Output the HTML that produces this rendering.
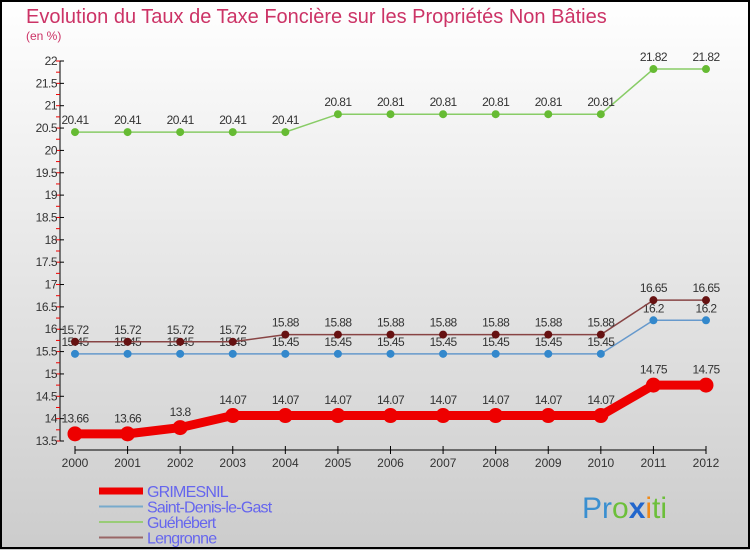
<!DOCTYPE html>
<html><head><meta charset="utf-8"><style>
body{margin:0}
svg{display:block;font-family:"Liberation Sans",sans-serif}
</style></head><body>
<svg id="c" width="750" height="550" viewBox="0 0 750 550">
<defs><linearGradient id="bg" x1="0" y1="0" x2="0" y2="1"><stop offset="0" stop-color="#ffffff"/><stop offset="1" stop-color="#cccccc"/></linearGradient></defs>
<rect x="0" y="0" width="750" height="550" fill="url(#bg)"/>
<rect x="1" y="1" width="748" height="547" fill="none" stroke="#000" stroke-width="2"/>
<text x="26" y="23" font-size="20" fill="#cc3366">Evolution du Taux de Taxe Foncière sur les Propriétés Non Bâties</text>
<text x="26" y="40" font-size="12" fill="#cc3366">(en %)</text>
<g id="axes"></g><g id="series"></g><g id="legend"></g>
<text x="582" y="518" font-size="30"><tspan fill="#3a8fd0">Pr</tspan><tspan fill="#6cbf3a">o</tspan><tspan fill="#2266cc" font-weight="bold">x</tspan><tspan fill="#f08a1a">i</tspan><tspan fill="#6cbf3a">ti</tspan></text>
</svg>
<script>
const years=["2000","2001","2002","2003","2004","2005","2006","2007","2008","2009","2010","2011","2012"];
const grimesnil=[13.66,13.66,13.8,14.07,14.07,14.07,14.07,14.07,14.07,14.07,14.07,14.75,14.75];
const saintDenis=[15.45,15.45,15.45,15.45,15.45,15.45,15.45,15.45,15.45,15.45,15.45,16.2,16.2];
const guehebert=[20.41,20.41,20.41,20.41,20.41,20.81,20.81,20.81,20.81,20.81,20.81,21.82,21.82];
const lengronne=[15.72,15.72,15.72,15.72,15.88,15.88,15.88,15.88,15.88,15.88,15.88,16.65,16.65];
const yTicks=["13.5","14","14.5","15","15.5","16","16.5","17","17.5","18","18.5","19","19.5","20","20.5","21","21.5","22"];
const NS="http://www.w3.org/2000/svg";
function xs(i){return 75+i*(706-75)/12;}
function ys(v){return 441-(v-13.5)*(380/8.5);}
function mk(t,a,p){const e=document.createElementNS(NS,t);for(const k in a)e.setAttribute(k,a[k]);p.appendChild(e);return e;}
const ax=document.getElementById('axes');
let e=mk('line',{x1:60,y1:ys(22),x2:60,y2:ys(13.5),stroke:'#000'},ax);


for(let v=13.5;v<=22.001;v+=0.25){mk('line',{x1:56,y1:ys(v),x2:60,y2:ys(v),stroke:'#e00'},ax);}
yTicks.forEach(t=>{const v=parseFloat(t);mk('line',{x1:60,y1:ys(v),x2:64,y2:ys(v),stroke:'#000'},ax);
 const tx=mk('text',{x:57,y:ys(v)+4,'font-size':12,'text-anchor':'end',fill:'#333','letter-spacing':'-0.5'},ax);tx.textContent=t;
 
 });
e=mk('line',{x1:75,y1:450,x2:706,y2:450,stroke:'#000'},ax);


years.forEach((y,i)=>{mk('line',{x1:xs(i),y1:446,x2:xs(i),y2:454,stroke:'#000'},ax);
 const tx=mk('text',{x:xs(i),y:467,'font-size':12,'text-anchor':'middle',fill:'#333'},ax);tx.textContent=y;
 
 });
const sg=document.getElementById('series');
const series=[
 {n:'guehebert',d:guehebert,c:'#88cc66',p:'#66bb33',w:1.5,r:4},
 {n:'saint-denis-le-gast',d:saintDenis,c:'#6699cc',p:'#3388cc',w:1.5,r:4},
 {n:'lengronne',d:lengronne,c:'#884444',p:'#661111',w:1.5,r:4},
 {n:'grimesnil',d:grimesnil,c:'#ee0000',p:'#ee0000',w:9,r:7.5}];
series.forEach(s=>{const g=mk('g',{},sg);
 
 
 mk('polyline',{points:s.d.map((v,i)=>xs(i)+','+ys(v)).join(' '),fill:'none',stroke:s.c,'stroke-width':s.w},g);
 s.d.forEach((v,i)=>{const c=mk('circle',{cx:xs(i),cy:ys(v),r:s.r,fill:s.p},g);
  
  
  const t=mk('text',{x:xs(i),y:ys(v)-(s.r+4),'font-size':12,'text-anchor':'middle',fill:'#333','letter-spacing':'-0.6'},g);t.textContent=String(v);
  
  });});
const lg=document.getElementById('legend');
const items=[['GRIMESNIL','#ee0000',7],['Saint-Denis-le-Gast','#77aacc',2],['Guéhébert','#99cc77',2],['Lengronne','#996666',2]];
items.forEach((it,k)=>{const y=491+k*15.5;const g=mk('g',{},lg);
 
 
 mk('line',{x1:99,y1:y,x2:143,y2:y,stroke:it[1],'stroke-width':it[2]},g);
 const t=mk('text',{x:147,y:y+6,'font-size':16,fill:'#6666ee','letter-spacing':'-0.8'},g);t.textContent=it[0];});
</script>
</body></html>
